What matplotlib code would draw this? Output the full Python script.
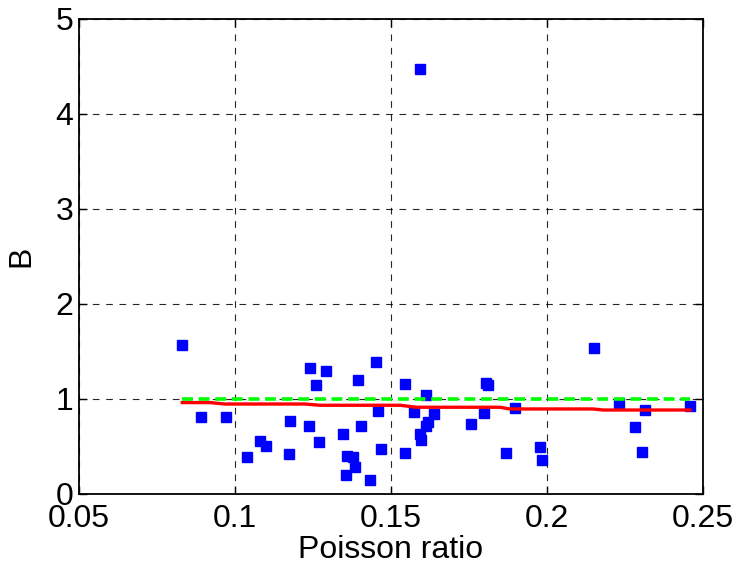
import matplotlib
matplotlib.use("Agg")
import matplotlib.pyplot as plt

plt.rcParams['font.family'] = ['Liberation Sans', 'DejaVu Sans']

# Measured samples: Poisson ratio vs. B
poisson = [0.0831, 0.0891, 0.0970, 0.1038, 0.1080, 0.1098, 0.1177, 0.1172,
           0.1241, 0.1260, 0.1292, 0.1236, 0.1269, 0.1347, 0.1360, 0.1378,
           0.1385, 0.1357, 0.1393, 0.1403, 0.1453, 0.1458, 0.1467, 0.1434,
           0.1546, 0.1546, 0.1573, 0.1611, 0.1638, 0.1620, 0.1611, 0.1592,
           0.1596, 0.1757, 0.1799, 0.1804, 0.1812, 0.1896, 0.1868, 0.1979,
           0.1984, 0.2150, 0.2232, 0.2315, 0.2283, 0.2305, 0.2458, 0.1593]
b_values = [1.568, 0.810, 0.810, 0.389, 0.555, 0.509, 0.768, 0.418,
            1.323, 1.144, 1.295, 0.719, 0.551, 0.628, 0.400, 0.393,
            0.284, 0.203, 1.203, 0.719, 1.386, 0.874, 0.477, 0.144,
            1.161, 0.435, 0.860, 1.039, 0.842, 0.761, 0.719, 0.628,
            0.568, 0.733, 0.856, 1.172, 1.144, 0.902, 0.435, 0.492,
            0.355, 1.537, 0.961, 0.887, 0.705, 0.445, 0.929, 4.470]

# Fitted trend (red) and reference level B = 1 (green)
fit_x = [0.0831, 0.0920, 0.0967, 0.1224, 0.1272, 0.1530, 0.1580,
         0.1850, 0.1880, 0.2147, 0.2180, 0.2458]
fit_y = [0.962, 0.962, 0.947, 0.947, 0.934, 0.934, 0.913,
         0.913, 0.895, 0.895, 0.884, 0.884]
ref_x = [0.0831, 0.2458]
ref_y = [1.0, 1.0]

xticks = [0.05, 0.1, 0.15, 0.2, 0.25]
xtick_labels = ['0.05', '0.1', '0.15', '0.2', '0.25']
yticks = [0, 1, 2, 3, 4, 5]

fig = plt.figure(figsize=(7.41, 5.74), dpi=100)
ax = fig.add_axes([0.1066, 0.1394, 0.8421, 0.8275])

ax.plot(poisson, b_values, linestyle='none', marker='s', markersize=7.5,
        color='#0000ff', markeredgecolor='#0000ff', zorder=3)
ax.plot(ref_x, ref_y, color='#00ff00', linestyle=(0, (3, 1.6)), linewidth=2.6, zorder=4)
ax.plot(fit_x, fit_y, color='#ff0000', linewidth=2.4, zorder=4)

ax.set_xlim(0.05, 0.25)
ax.set_ylim(0, 5)
ax.set_xticks(xticks)
ax.set_xticklabels(xtick_labels)
ax.set_yticks(yticks)

ax.grid(True, color='black', linestyle=(0, (6, 6)), linewidth=0.8, alpha=0.85)
ax.set_axisbelow(True)
ax.tick_params(direction='in', length=6, width=1, top=True, right=True,
               labelsize=23, colors='black')
ax.tick_params(axis='x', pad=7)
ax.tick_params(axis='y', pad=4)
for s in ax.spines.values():
    s.set_linewidth(1.3)
    s.set_color('black')

ax.set_xlabel('Poisson ratio', fontsize=23, labelpad=1)
ax.set_ylabel('B', fontsize=23, labelpad=14)

fig.savefig('out.png', dpi=100)
